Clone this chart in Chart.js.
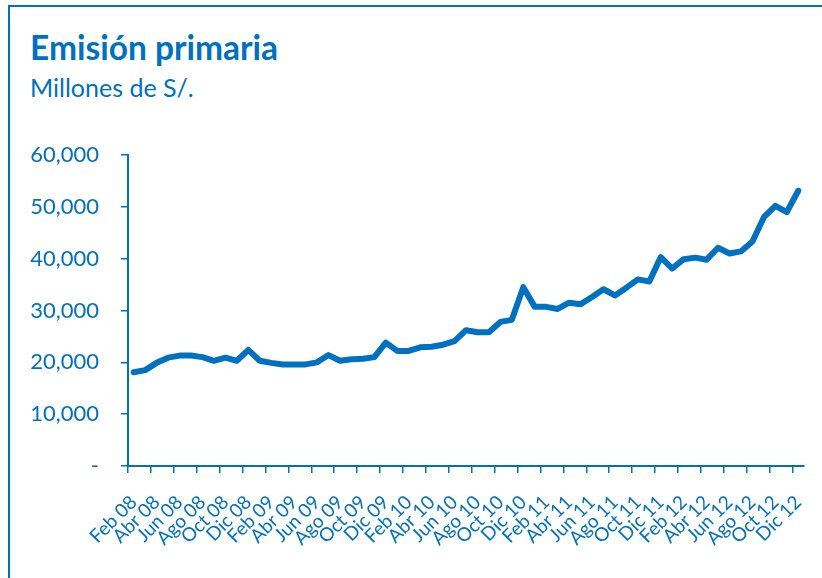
<!DOCTYPE html>
<html>
<head>
<meta charset="utf-8">
<script src="https://cdn.jsdelivr.net/npm/chart.js@4.4.1/dist/chart.umd.min.js"></script>
<style>
  body { margin: 0; background: #fff; }
  #wrap { position: relative; width: 822px; height: 578px; overflow: hidden; }
  #frame { position: absolute; left: 8px; top: 5px; width: 830px; height: 600px;
           border-top: 2px solid #0070C0; border-left: 2px solid #0070C0; }
  .txt { position: absolute; left: 30px; color: #0070C0; font-family: Lato, sans-serif;
         line-height: 1; white-space: nowrap; }
  #title { top: 31px; font-size: 33.5px; font-weight: bold; }
  #subtitle { top: 75px; font-size: 25px; }
  canvas { position: absolute; left: 0; top: 0; }
</style>
</head>
<body>
<div id="wrap">
  <div id="frame"></div>
  <div id="title" class="txt">Emisión primaria</div>
  <div id="subtitle" class="txt">Millones de S/.</div>
  <canvas id="chart" width="822" height="578"></canvas>
</div>
<script>
// months Feb 08 - Dic 12
const months = [
  "Feb 08","Mar 08","Abr 08","May 08","Jun 08","Jul 08","Ago 08","Sep 08","Oct 08","Nov 08","Dic 08",
  "Ene 09","Feb 09","Mar 09","Abr 09","May 09","Jun 09","Jul 09","Ago 09","Sep 09","Oct 09","Nov 09","Dic 09",
  "Ene 10","Feb 10","Mar 10","Abr 10","May 10","Jun 10","Jul 10","Ago 10","Sep 10","Oct 10","Nov 10","Dic 10",
  "Ene 11","Feb 11","Mar 11","Abr 11","May 11","Jun 11","Jul 11","Ago 11","Sep 11","Oct 11","Nov 11","Dic 11",
  "Ene 12","Feb 12","Mar 12","Abr 12","May 12","Jun 12","Jul 12","Ago 12","Sep 12","Oct 12","Nov 12","Dic 12"
];

// Emision primaria, millones de S/.
const emision = [
  18100, 18500, 19900, 20900, 21300, 21300, 21000, 20300, 20900, 20300, 22400,
  20300, 19900, 19600, 19600, 19600, 20000, 21400, 20300, 20600, 20700, 21000, 23800,
  22200, 22200, 22900, 23000, 23400, 24100, 26200, 25800, 25800, 27800, 28200, 34500,
  30700, 30700, 30300, 31500, 31200, 32600, 34100, 32900, 34400, 36000, 35600, 40300,
  38100, 39900, 40200, 39800, 42100, 41000, 41400, 43300, 48000, 50200, 49000, 53100
];

const yTicks = [0, 10000, 20000, 30000, 40000, 50000, 60000];

const BLUE = "#0070C0";

const ctx = document.getElementById("chart");

new Chart(ctx, {
  type: "line",
  data: {
    labels: months,
    datasets: [{
      label: "Emisión primaria",
      data: emision,
      borderColor: BLUE,
      borderWidth: 6,
      borderCapStyle: "round",
      borderJoinStyle: "round",
      pointRadius: 0,
      tension: 0,
      fill: false
    }]
  },
  options: {
    responsive: false,
    animation: false,
    layout: { padding: { left: 10, right: 18, top: 155, bottom: 0 } },
    plugins: {
      legend: { display: false },
      tooltip: { enabled: false }
    },
    scales: {
      x: {
        type: "category",
        offset: true,
        grid: {
          offset: true,
          drawOnChartArea: false,
          tickLength: 7,
          lineWidth: 1.5,
          color: c => (c.index !== undefined && c.index % 2 === 0) ? BLUE : "rgba(0,0,0,0)"
        },
        border: { color: BLUE, width: 2 },
        ticks: {
          autoSkip: false,
          minRotation: 45,
          maxRotation: 45,
          padding: 18,
          color: BLUE,
          font: { family: "Lato", size: 19 },
          callback: (v, i) => i % 2 === 0 ? months[i] : ""
        },
        afterFit: s => {
          s.height = 112;
          // rotated labels shouldn't push the plot edges in
          s.paddingLeft = 0;
          s.paddingRight = 0;
        }
      },
      y: {
        min: yTicks[0],
        max: yTicks[yTicks.length - 1],
        afterBuildTicks: s => { s.ticks = yTicks.map(v => ({ value: v })); },
        grid: { drawOnChartArea: false, tickLength: 7, lineWidth: 1.5, color: BLUE },
        border: { color: BLUE, width: 2 },
        ticks: {
          padding: 22,
          color: BLUE,
          font: { family: "Lato", size: 22 },
          callback: v => v === 0 ? "-" : v.toLocaleString("en-US")
        },
        afterFit: s => { s.width = 118; }
      }
    }
  }
});
</script>
</body>
</html>
